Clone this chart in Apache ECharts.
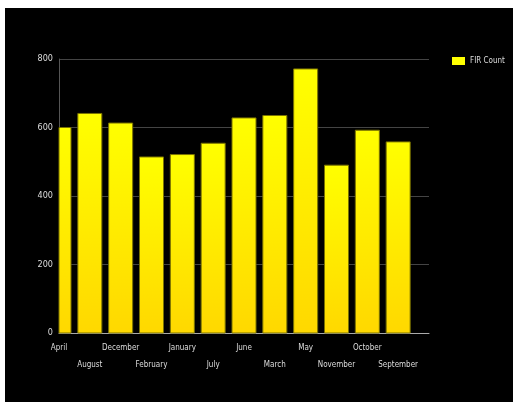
<!DOCTYPE html>
<html><head><meta charset="utf-8">
<script src="https://cdn.jsdelivr.net/npm/echarts@6/dist/echarts.min.js"></script>
<style>
html,body{margin:0;padding:0;background:#fff;width:513px;height:402px;overflow:hidden}
#c{position:absolute;left:5px;top:8px;width:508px;height:394px;background:#000}
</style></head>
<body><div id="c"></div>
<script>
const categories = ['April','August','December','February','January','July','June','March','May','November','October','September'];
const firCount = [600, 641, 613, 514, 521, 554, 628, 635, 771, 490, 592, 558];
const yTicks = [0, 200, 400, 600, 800];

const chart = echarts.init(document.getElementById('c'), null, {renderer:'canvas'});
const font = '"DejaVu Sans Condensed", "Liberation Sans Narrow", "Liberation Sans", Arial, sans-serif';
const barW = 24;
chart.setOption({
  backgroundColor: '#000',
  animation: false,
  legend: {
    data: ['FIR Count'], left: 447, top: 49, padding: 0, itemWidth: 13, itemHeight: 8, itemGap: 4,
    icon: 'rect',
    itemStyle: {color: '#FFFF00', borderWidth: 0},
    textStyle: {color: '#dddddd', fontSize: 8, fontFamily: font}
  },
  grid: {left: 54, right: 84, top: 51, bottom: 69, containLabel: false},
  xAxis: {
    type: 'value', min: 0, max: categories.length, interval: 1,
    axisLine: {show: true, onZero: false, lineStyle: {color: '#aaaaaa', width: 1}},
    axisTick: {show: false},
    axisLabel: {
      color: '#dddddd', fontSize: 8, fontFamily: font, margin: 6, lineHeight: 17,
      showMinLabel: true, showMaxLabel: true,
      formatter: (v) => {
        const i = Math.round(v);
        const name = categories[i] || '';
        return i % 2 ? '\n' + name : name;
      }
    },
    splitLine: {show: false}
  },
  yAxis: {
    type: 'value', min: yTicks[0], max: yTicks[yTicks.length-1], interval: 200,
    axisLine: {show: true, lineStyle: {color: '#555555'}},
    axisTick: {show: false},
    axisLabel: {color: '#dddddd', fontSize: 9, fontFamily: font, margin: 6},
    splitLine: {lineStyle: {color: '#444444', width: 1}}
  },
  series: [{
    name: 'FIR Count', type: 'custom',
    data: firCount.map((v, i) => [i, v]),
    itemStyle: {color: '#FFFF00'},
    encode: {x: 0, y: 1},
    renderItem: (params, api) => {
      const x = api.value(0), y = api.value(1);
      const top = api.coord([x, y]);
      const base = api.coord([x, 0]);
      const rect = echarts.graphic.clipRectByRect(
        {x: top[0] - barW / 2, y: top[1], width: barW, height: base[1] - top[1]},
        params.coordSys);
      if (!rect) return;
      return {
        type: 'rect', shape: rect,
        style: {
          fill: new echarts.graphic.LinearGradient(0, 0, 0, 1, [
            {offset: 0, color: '#FFFF00'}, {offset: 1, color: '#FFD800'}
          ]),
          stroke: '#7a7200', lineWidth: 1
        }
      };
    }
  }]
});
</script></body></html>
